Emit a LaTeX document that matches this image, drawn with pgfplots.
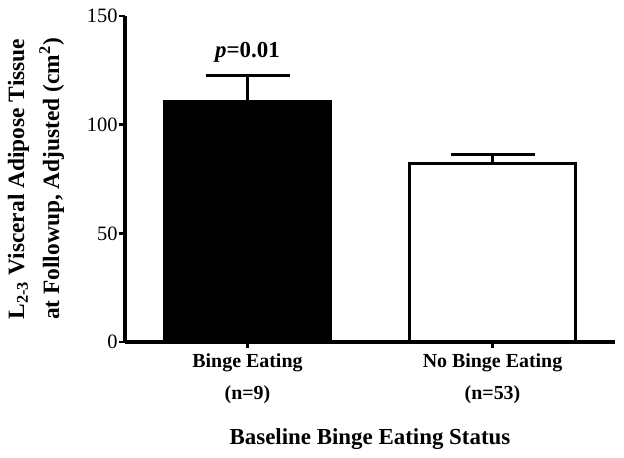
\documentclass[border=0pt]{standalone}
\usepackage{pgfplots}
\pgfplotsset{compat=1.18}
\usepackage{fontspec}
\setmainfont{Liberation Serif}
\begin{document}
\begin{tikzpicture}
\useasboundingbox (0,0) rectangle (624bp,458bp);
\begin{axis}[
  at={(125bp,116bp)}, anchor=south west,
  width=490bp, height=326bp, scale only axis,
  xmin=-0.5, xmax=1.5, ymin=0, ymax=150,
  axis x line*=bottom, axis y line*=left,
  axis line style={line width=3bp, black},
  ytick={0,50,100,150},
  xtick={0,1},
  xticklabels={{Binge Eating\\[7pt](n=9)},{No Binge Eating\\[7pt](n=53)}},
  tick style={line width=2.5bp, black},
  major tick length=6bp,
  tick align=outside,
  /pgf/number format/assume math mode=true,
  y tick label style={font=\fontsize{20.5}{24}\selectfont, xshift=2bp},
  x tick label style={font=\bfseries\fontsize{20}{25}\selectfont, align=center, yshift=-2bp},
  xlabel={Baseline Binge Eating Status},
  xlabel style={font=\bfseries\fontsize{23}{27}\selectfont, yshift=-18bp},
  ylabel={L\textsubscript{2-3} Visceral Adipose Tissue\\at Followup, Adjusted (cm\textsuperscript{2})},
  ylabel style={font=\bfseries\fontsize{23.5}{35}\selectfont, align=center, yshift=16bp},
  clip=false,
]
\addplot[ybar, bar width=0.68, bar shift=0pt, fill=black, draw=black, line width=2bp,
  error bars/.cd, y dir=plus, y explicit,
  error bar style={line width=3bp, black},
  error mark options={rotate=90, mark size=42bp, line width=3bp, black}]
  coordinates {(0,110.9) +- (0,11.5)};
\addplot[ybar, bar width=0.68, bar shift=0pt, fill=white, draw=black, line width=3bp,
  error bars/.cd, y dir=plus, y explicit,
  error bar style={line width=3bp, black},
  error mark options={rotate=90, mark size=42bp, line width=3bp, black}]
  coordinates {(1,82.1) +- (0,4.4)};
\node[font=\bfseries\fontsize{23}{27}\selectfont, anchor=base] at (axis cs:0,130.7) {\textit{p}=0.01};
\end{axis}
\end{tikzpicture}
\end{document}
